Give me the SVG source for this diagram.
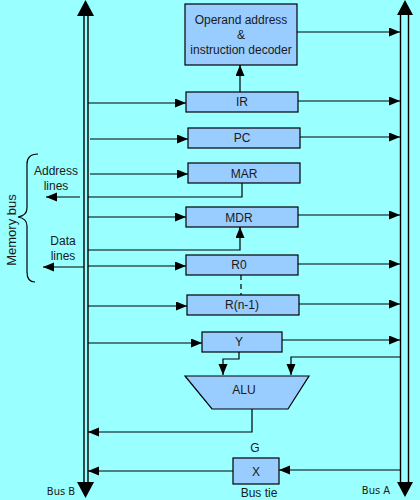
<svg xmlns="http://www.w3.org/2000/svg" width="420" height="500" viewBox="0 0 420 500">
<defs>
<marker id="ah" markerUnits="userSpaceOnUse" markerWidth="12" markerHeight="10" refX="11" refY="4.5" orient="auto">
<path d="M0,0 L11,4.5 L0,9 z" fill="#000"/>
</marker>
</defs>
<style>
.box{fill:#99ccff;stroke:#000;stroke-width:1.2}
.t{font-family:"Liberation Sans",Arial,sans-serif;font-size:12px;fill:#1a1a1a;text-anchor:middle}
.s{font-family:"DejaVu Sans","Liberation Sans",sans-serif;font-size:10px;fill:#1a1a1a;text-anchor:middle}
.c{fill:none;stroke:#000;stroke-width:1.2}
.a{marker-end:url(#ah)}
.bus{stroke:#000;stroke-width:1.4;fill:none}
</style>
<rect x="0" y="0" width="420" height="500" fill="#99ffff"/>

<g id="busB">
<line class="bus" x1="84" y1="15" x2="84" y2="483"/>
<line class="bus" x1="88" y1="15" x2="88" y2="483"/>
<polygon points="77,16 94,16 85.5,0" fill="#000"/>
<polygon points="77,482 94,482 85.5,498" fill="#000"/>
<text class="s" x="61" y="495">Bus B</text>
</g>
<g id="busA">
<line class="bus" x1="400.5" y1="14" x2="400.5" y2="483"/>
<line class="bus" x1="408.5" y1="14" x2="408.5" y2="483"/>
<polygon points="397,15 413,15 405,0" fill="#000"/>
<polygon points="397,482 413,482 405,497" fill="#000"/>
<text class="s" x="376" y="494">Bus A</text>
</g>

<g id="connectors">
<path class="c a" d="M297,32 H400"/>
<path class="c a" d="M240,92 V65"/>
<path class="c a" d="M88,103 H186"/>
<path class="c a" d="M298,101 H400"/>
<path class="c a" d="M90,139 H188"/>
<path class="c a" d="M300,137 H400"/>
<path class="c a" d="M90,174 H188"/>
<path class="c" d="M242,183 V197 H88"/>
<path class="c a" d="M80,197 H46"/>
<path class="c a" d="M88,217 H186"/>
<path class="c a" d="M298,215 H400"/>
<path class="c a" d="M88,250 H240 V227"/>
<path class="c a" d="M84,267 H43"/>
<path class="c a" d="M88,266 H186"/>
<path class="c a" d="M298,264 H400"/>
<path class="c" d="M241,275 V295" stroke-dasharray="5,4"/>
<path class="c a" d="M88,306 H187"/>
<path class="c a" d="M299,304 H400"/>
<path class="c a" d="M88,343 H202"/>
<path class="c a" d="M282,340 H400"/>
<path class="c a" d="M239,352 V359 H223 V375"/>
<path class="c a" d="M400,357 H291 V375"/>
<path class="c a" d="M252,409 V432 H88"/>
<path class="c a" d="M400,470 H279"/>
<path class="c a" d="M233,471 H88"/>
</g>

<g id="decoder">
<rect class="box" x="185" y="4" width="112" height="61"/>
<text class="t" x="241" y="24">Operand address</text>
<text class="t" x="241" y="39">&amp;</text>
<text class="t" x="241" y="54">instruction decoder</text>
</g>
<g id="IR">
<rect class="box" x="186" y="92" width="112" height="20"/>
<text class="t" x="242" y="106">IR</text>
</g>
<g id="PC">
<rect class="box" x="188" y="128" width="112" height="20"/>
<text class="t" x="242" y="142">PC</text>
</g>
<g id="MAR">
<rect class="box" x="188" y="163" width="112" height="20"/>
<text class="t" x="244" y="178">MAR</text>
</g>
<g id="MDR">
<rect class="box" x="186" y="207" width="112" height="20"/>
<text class="t" x="239" y="222">MDR</text>
</g>
<g id="R0">
<rect class="box" x="186" y="255" width="112" height="20"/>
<text class="t" x="239" y="269">R0</text>
</g>
<g id="Rn1">
<rect class="box" x="187" y="295" width="112" height="20"/>
<text class="t" x="242" y="309">R(n-1)</text>
</g>
<g id="Y">
<rect class="box" x="202" y="332" width="80" height="20"/>
<text class="t" x="239" y="346">Y</text>
</g>
<g id="ALU">
<polygon class="box" points="185,376 309,376 288,409 212,409"/>
<text class="t" x="244" y="394">ALU</text>
</g>
<g id="X">
<text class="t" x="255" y="452">G</text>
<rect class="box" x="233" y="458" width="46" height="26"/>
<text class="t" x="256" y="476">X</text>
<text class="t" x="259" y="497">Bus tie</text>
</g>
<g id="memorybus">
<path class="c" d="M38,154 C30,154 27,158 27,164 L27,208 C27,213 24,216 18,217 C24,218 27,221 27,226 L27,272 C27,279 30,282 35,282"/>
<text class="t" x="12" y="230" transform="rotate(-90 12 230)" dy="4" style="font-size:13px">Memory bus</text>
<text class="t" x="56" y="175">Address</text>
<text class="t" x="56" y="190">lines</text>
<text class="t" x="63" y="245">Data</text>
<text class="t" x="63" y="260">lines</text>
</g>
</svg>
